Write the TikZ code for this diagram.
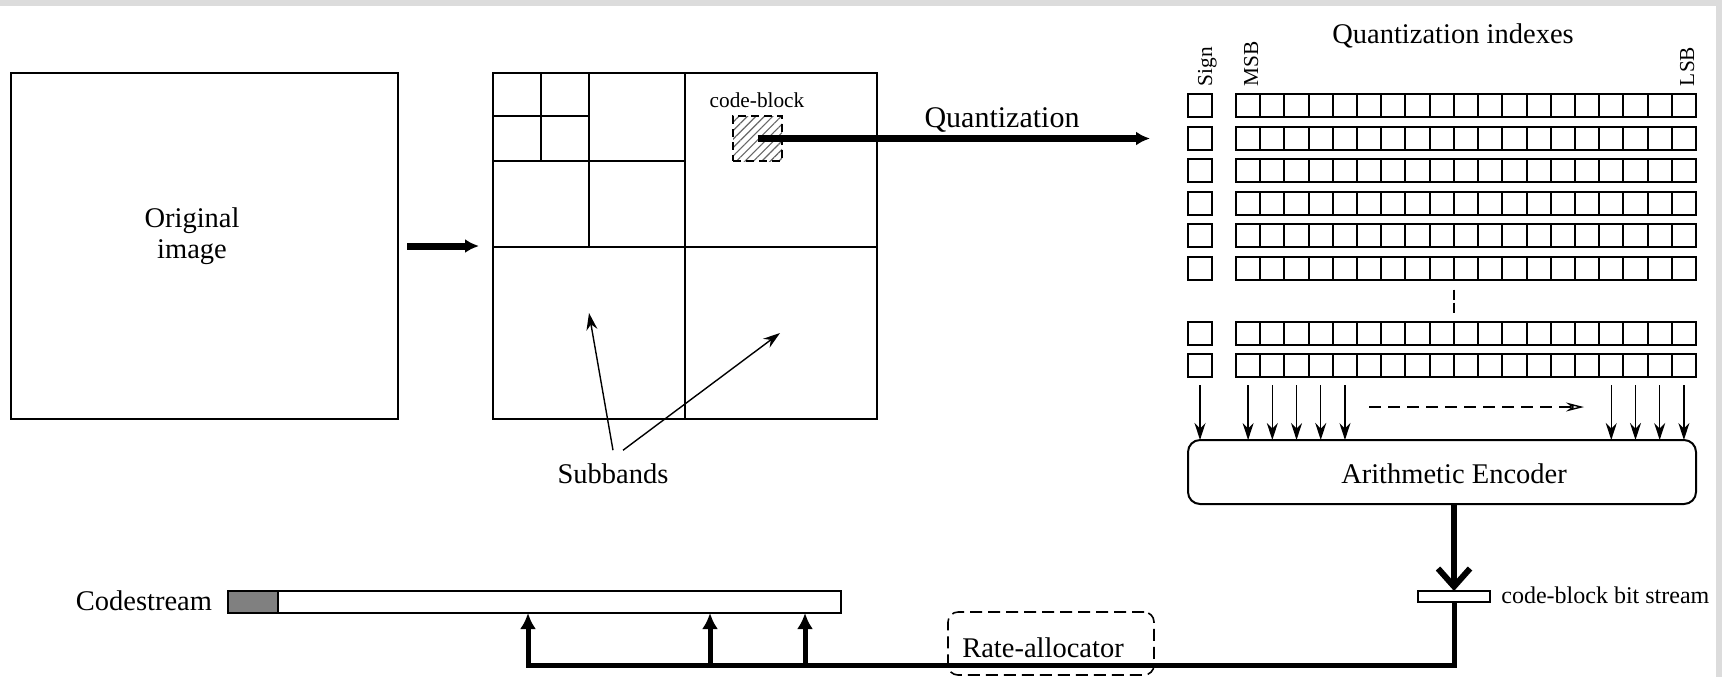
\documentclass[tikz,border=0pt]{standalone}
\usepackage{fontspec}
\setmainfont{Liberation Serif}
\usetikzlibrary{arrows.meta,patterns.meta}
\definecolor{framegray}{RGB}{220,220,220}
\definecolor{headgray}{RGB}{128,128,128}
\begin{document}
\begin{tikzpicture}[x=0.5pt,y=-0.5pt,
  box/.style={draw,line width=1pt,inner sep=0pt,outer sep=0pt},
  cell/.style={box,minimum width=12.1pt,minimum height=11.5pt},
  txt/.style={inner sep=0pt,outer sep=0pt,font=\fontsize{14.25}{15.5}\selectfont},
  smalltxt/.style={inner sep=0pt,outer sep=0pt,font=\fontsize{10.65}{12}\selectfont},
  thinline/.style={line width=1pt},
  thinarrow/.style={line width=0.7pt,-{Stealth[length=8.5pt,width=5.5pt]}},
  bigarrow/.style={line width=3.5pt,-{Latex[length=7pt,width=7pt]}},
  feedarrow/.style={line width=2.5pt,line join=miter,-{Latex[length=8pt,width=8pt]}},
]
% frame
\fill[framegray] (0,0) rectangle (1722,6);
\fill[framegray] (1716,0) rectangle (1722,677);
\useasboundingbox (0,0) rectangle (1722,677);

% original image
\node[box,minimum width=193.5pt,minimum height=173pt] (orig) at (204.5,246) {};
\node[txt,align=center] (origt) at (192,236) {Original\\image};

% subbands
\node[box,minimum width=192pt,minimum height=173pt] (sub) at (685,246) {};
\draw[thinline] (685,73) -- (685,419);
\draw[thinline] (493,247) -- (877,247);
\draw[thinline] (589,73) -- (589,247);
\draw[thinline] (493,161) -- (685,161);
\draw[thinline] (541,73) -- (541,161);
\draw[thinline] (493,116) -- (589,116);

\draw[bigarrow] ([xshift=4.5pt]orig.east) -- ([xshift=-7pt]sub.west);

% code-block
\node[draw,dash pattern=on 4pt off 2.5pt,line width=0.8pt,
      pattern={Lines[angle=45,distance=3pt,line width=0.6pt]},pattern color=black!60,
      minimum width=24.5pt,minimum height=22.5pt,inner sep=0pt] (cb) at (757.5,138.5) {};
\node[smalltxt,anchor=base] (cbt) at (757,107) {code-block};
\coordinate (qend) at (1150,138.5);
\draw[bigarrow] (cb.center) -- (qend);
\node[inner sep=0pt,font=\fontsize{15}{18}\selectfont,anchor=base] (qt) at (1002,127) {Quantization};

% subbands label
\node[txt,anchor=base] (sbt) at (613,483) {Subbands};
\coordinate (sa1) at (589,313);
\coordinate (sa2) at (780,333);
\draw[thinarrow] ([yshift=6.5pt]sbt.north) -- (sa1);
\draw[thinarrow] ([xshift=5pt,yshift=6.5pt]sbt.north) -- (sa2);

% quantization indexes
\node[txt,anchor=base] (qi) at (1453,43) {Quantization indexes};
\foreach \k/\yy in {1/105.5,2/138,3/170.5,4/203,5/235.5,6/268,7/333,8/365.5} {
  \node[cell,minimum width=12pt] (s\k) at (1200,\yy) {};
  \foreach \j in {1,...,19} {
    \node[cell] (b\k-\j) at ({1236+24.21*(\j-0.5)},\yy) {};
  }
}
\node[smalltxt,rotate=90,anchor=base west] (sgn) at (1212,86) {Sign};
\node[smalltxt,rotate=90,anchor=base west] (msb) at (1258,86) {MSB};
\node[smalltxt,rotate=90,anchor=base west] (lsb) at (1694,86) {LSB};

\draw[line width=0.7pt,dash pattern=on 5pt off 1.5pt]
  ([yshift=-5pt]b6-10.south west) -- ([yshift=4pt]b7-10.north west);

% arithmetic encoder
\node[box,rounded corners=6pt,minimum width=254pt,minimum height=32pt] (enc) at (1442,472) {};
\node[txt,anchor=base] (enct) at (1454,483) {Arithmetic Encoder};

\foreach \c in {s8,b8-1,b8-2,b8-3,b8-4,b8-5,b8-16,b8-17,b8-18,b8-19} {
  \draw[thinarrow] ([yshift=-4pt]\c.south) -- (\c.south |- enc.north);
}
\coordinate (da1) at (1369,407);
\coordinate (da2) at (1584,407);
\draw[line width=0.7pt,dash pattern=on 6pt off 3.5pt,-{Stealth[open,length=9pt,width=4.5pt]}] (da1) -- (da2);

% bit stream
\node[box,line width=0.8pt,fill=white,minimum width=36pt,minimum height=5.5pt] (bs) at (1454,596.5) {};
\node[inner sep=0pt,font=\fontsize{12}{14}\selectfont,anchor=base west] (bst) at (1501,603) {code-block bit stream};
\draw[line width=3pt,-{Straight Barb[length=9pt,width=16pt]}] (enc.south -| bs.north) -- (bs.north);

% codestream
\node[box,line width=0.8pt,minimum width=306.5pt,minimum height=11pt] (cs) at (534.5,602) {};
\node[box,line width=0.8pt,fill=headgray,minimum width=25pt,minimum height=11pt,anchor=west] (csh) at (cs.west) {};
\node[txt,anchor=base east] (cst) at (212,610) {Codestream};

% feedback
\coordinate (f1) at (528,665);
\coordinate (f2) at (710,665);
\coordinate (f3) at (805,665);
\draw[feedarrow] (bs.south) |- (f1) -- (f1 |- cs.south);
\draw[feedarrow] (f2) -- (f2 |- cs.south);
\draw[feedarrow] (f3) -- (f3 |- cs.south);

% rate allocator
\node[draw,dash pattern=on 6pt off 3pt,line width=0.8pt,rounded corners=5pt,
      minimum width=103pt,minimum height=31.5pt,inner sep=0pt] (ra) at (1051,643.5) {};
\node[txt,anchor=base] (rat) at (1043,657) {Rate-allocator};
\end{tikzpicture}
\end{document}
